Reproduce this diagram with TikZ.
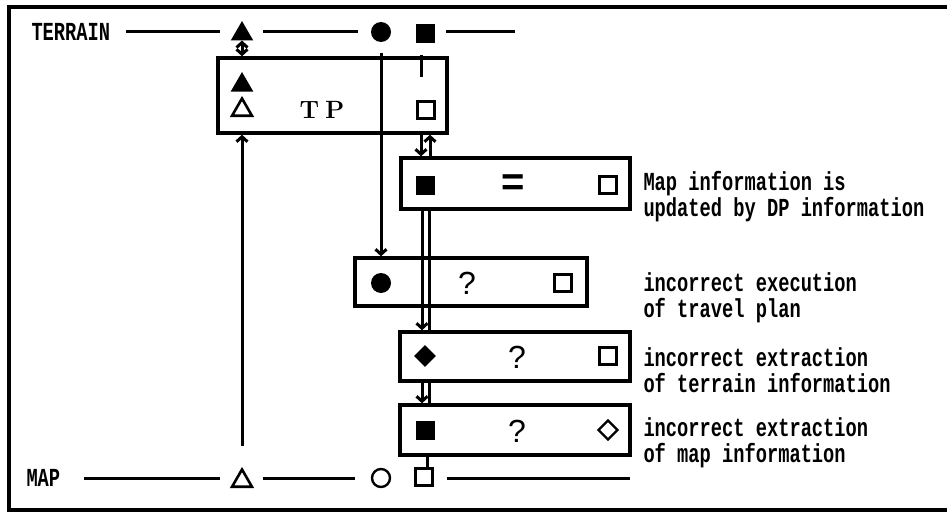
\documentclass[tikz,border=0pt]{standalone}
\usepackage{fontspec}
\usetikzlibrary{shapes.geometric,arrows.meta}
\newfontfamily\lblfont[FakeStretch=0.72]{Liberation Mono}
\newfontfamily\qfont{Liberation Sans}

\begin{document}
\begin{tikzpicture}[x=1pt, y=-1pt, line width=3pt,
  >={Straight Barb[length=5pt,width=11pt]},
  lbl/.style={font=\lblfont\bfseries\fontsize{26}{26}\selectfont,
    inner sep=0pt, align=left, anchor=west},
  box/.style={draw, rectangle, line width=3.4pt, inner sep=0pt},
  fsq/.style={rectangle, fill, minimum size=19pt, inner sep=0pt},
  osq/.style={rectangle, draw, line width=2.4pt, minimum size=17pt, inner sep=0pt},
  ftri/.style={regular polygon, regular polygon sides=3, fill,
    minimum size=26pt, inner sep=0pt, outer sep=0pt},
  otri/.style={regular polygon, regular polygon sides=3, draw, line width=2.6pt,
    minimum size=23pt, inner sep=0pt},
  fcir/.style={circle, fill, minimum size=20pt, inner sep=0pt},
  ocir/.style={circle, draw, line width=2.4pt, minimum size=18pt, inner sep=0pt},
  fdia/.style={diamond, fill, minimum size=23pt, inner sep=0pt},
  odia/.style={diamond, draw, line width=2.4pt, minimum size=20pt, inner sep=0pt},
  qmark/.style={font=\qfont\fontsize{32}{32}\selectfont, inner sep=0pt}]
  \useasboundingbox (0,0) rectangle (947,511);
  \draw[line width=4pt] (8.5,7.5) rectangle (960,509.5);

  % terrain row
  \node[lbl] (terrain) at (30,32) {TERRAIN};
  \node[ftri] (tTri) at (242,34) {};
  \node[fcir] (tCir) at (381,32) {};
  \node[fsq]  (tSq)  at (425,34) {};
  \coordinate (tEnd) at (515,32);
  \draw[shorten <=14pt, shorten >=22pt] (terrain.east) -- (terrain.east -| tTri);
  \draw[shorten <=21pt, shorten >=23pt] (terrain.east -| tTri) -- (terrain.east -| tCir);
  \draw[shorten <=21pt] (terrain.east -| tSq) -- (tEnd);

  % map row
  \node[lbl] (map) at (25,478) {MAP};
  \node[otri] (mTri) at (242,481) {};
  \node[ocir] (mCir) at (381,478) {};
  \node[osq]  (mSq)  at (424,477) {};
  \coordinate (mEnd) at (630,478);
  \draw[shorten <=22pt, shorten >=22pt] (map.east) -- (map.east -| mTri);
  \draw[shorten <=21pt, shorten >=26pt] (map.east -| mTri) -- (map.east -| mCir);
  \draw[shorten <=23pt] (map.east -| mSq) -- (mEnd);

  % TP box
  \node[box, minimum width=229pt, minimum height=75pt] (tp) at (332.5,95.5) {};
  \node[ftri] (tpA) at (242,85) {};
  \node[otri] (tpB) at (242,110) {};
  \node[font=\bfseries\fontsize{25}{25}\selectfont] (tpLbl) at (322,110) {T\hspace{6pt}P};
  \node[osq]  (tpC) at (426,110) {};

  % DP box
  \node[box, minimum width=229pt, minimum height=51pt] (dp) at (515.5,183.5) {};
  \node[fsq] (dpA) at (425,185) {};
  \node[font=\qfont\bfseries\fontsize{40}{40}\selectfont, inner sep=0pt] (dpB) at (513,185) {=};
  \node[osq] (dpC) at (608,185) {};
  \node[lbl] (dpTxt) at (642,197) {Map information is\\updated by DP information};

  % execution box
  \node[box, minimum width=232pt, minimum height=48pt] (ex) at (471,282) {};
  \node[fcir] (exA) at (381,283) {};
  \node[qmark] (exB) at (467,283) {?};
  \node[osq] (exC) at (563,283) {};
  \node[lbl] (exTxt) at (642,298) {incorrect execution\\of travel plan};

  % terrain extraction box
  \node[box, minimum width=230pt, minimum height=49pt] (te) at (515,356.5) {};
  \node[fdia] (teA) at (425,356) {};
  \node[qmark] (teB) at (517,357) {?};
  \node[osq] (teC) at (608,356) {};
  \node[lbl] (teTxt) at (642,370) {incorrect extraction\\of terrain information};

  % map extraction box
  \node[box, minimum width=230pt, minimum height=50pt] (me) at (515,430) {};
  \node[fsq] (meA) at (425,430) {};
  \node[qmark] (meB) at (517,431) {?};
  \node[odia] (meC) at (608,430) {};
  \node[lbl] (meTxt) at (642,443) {incorrect extraction\\of map information};

  % connectors
  \coordinate (lane) at (421,77);
  \draw[<->] (tTri.south) -- (tTri |- tp.north);
  \draw[->, shorten <=21pt] (mTri.north) -- (mTri |- tp.south);
  \draw[->, shorten <=10pt] (tCir.south) -- (tCir |- ex.north);
  \draw[shorten <=10pt] (lane |- tSq.south) -- (lane);
  \draw[->] (lane |- tp.south) -- (lane |- dp.north);
  \draw[->] ([xshift=9pt]lane |- dp.north) -- ([xshift=9pt]lane |- tp.south);
  \draw[->] ([xshift=1pt]lane |- dp.south) -- ([xshift=1pt]lane |- te.north);
  \draw ([xshift=8pt]lane |- dp.south) -- ([xshift=8pt]lane |- te.north);
  \draw[->] ([xshift=1pt]lane |- te.south) -- ([xshift=1pt]lane |- me.north);
  \draw ([xshift=8pt]lane |- te.south) -- ([xshift=8pt]lane |- me.north);
  \draw ([xshift=6pt]lane |- me.south) -- ([xshift=6pt]lane |- mSq.north);
\end{tikzpicture}
\end{document}
